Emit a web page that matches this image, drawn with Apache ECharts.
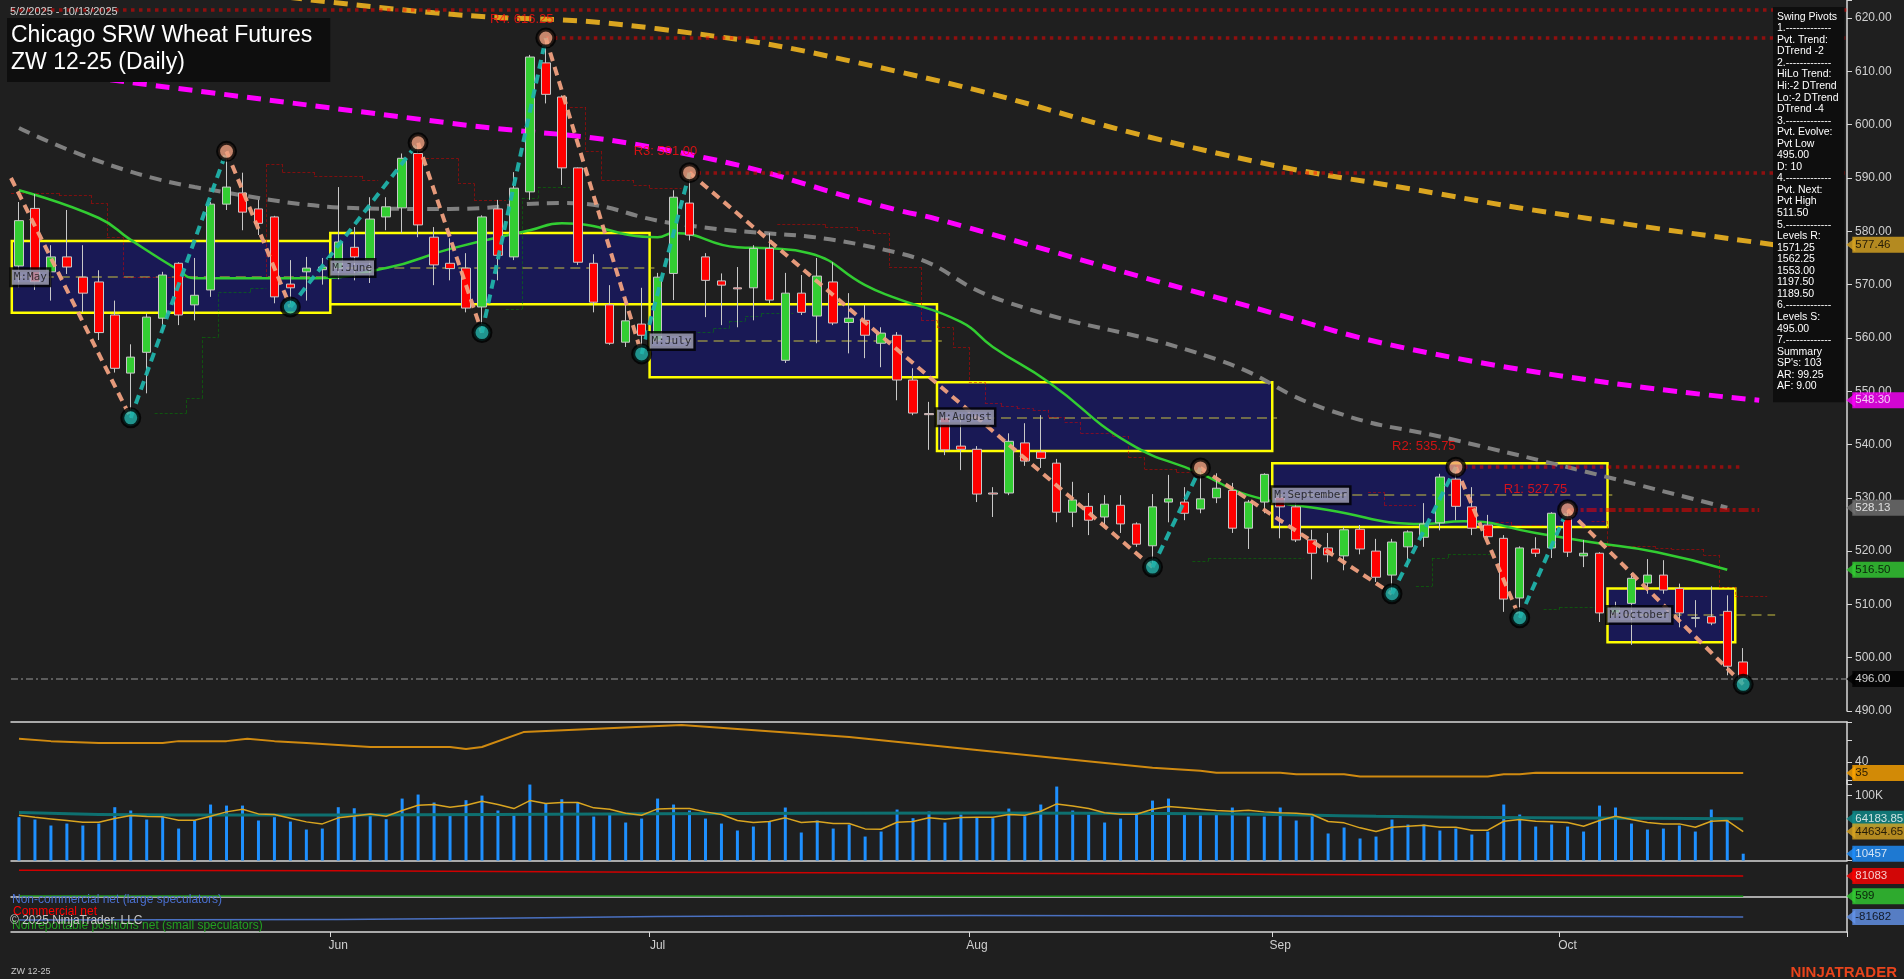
<!DOCTYPE html>
<html><head><meta charset="utf-8">
<script src="https://cdn.jsdelivr.net/npm/echarts@6/dist/echarts.min.js"></script>
<style>html,body{margin:0;padding:0;background:#1f1f1f}#c{width:1904px;height:979px}</style>
</head><body><div id="c"></div>
<script>
// ---- DATA ----
const ohlc = [ // [open, high, low, close]
[573.5,585.5,569.5,582],[584.3,587,569,570.5],[572.4,577.4,567,575.2],[575.2,584,572,573.3],[571.4,577.4,564.8,568.4],
[570.5,572.7,559.6,561],[564.3,567,553.5,554.3],[553.4,558.8,545,556.4],[557.3,564.6,549.6,563.9],[563.7,572.4,561,571.8],
[574,574.2,562.4,564.3],[566.2,575,563.3,568],[569,585.5,567.7,585.1],[585.1,595,584,588.3],[587.2,591,580.2,583.6],
[584.2,585.9,579.3,581.5],[582.7,582.9,566.5,567.7],[570.1,574.6,565.8,569.4],[572.4,575.2,567,573.1],[572.8,575,570,573.3],
[573,588.3,571,578],[577,580.8,570.8,575.2],[574.6,586.4,570.3,582.3],[582.7,586.4,580.2,584.6],[584.4,594.6,579.7,593.7],
[594.6,596.6,578.9,581.2],[578.9,580.8,569.9,573.7],[574,578.7,570.8,573],[573.1,575.9,564.8,565.6],[565.8,583,561,582.7],
[584.2,585.9,570.8,575.5],[575.2,591.1,574.6,588.1],[587.4,613.1,585.9,612.7],[611.6,616.25,604,605.7],[605.2,605.5,588.7,591.9],
[591.9,592,573.7,574.2],[574,575.7,564.8,566.7],[566.2,569.9,558.7,559],[559.2,567.5,558.3,563.2],[562.6,569.4,557,560.5],
[559.6,572.2,559.2,571.4],[572.1,587.7,567.1,586.4],[585.3,591,578.3,579.3],[575.2,575.9,563.9,570.8],[570.7,572.1,562.4,569.9],
[569.4,573.3,562,569.2],[569.4,577.4,563.3,576.8],[576.8,579.7,566.5,567.1],[555.8,572.2,555.3,568.4],[568.4,571.8,564.3,564.8],
[564.1,575,559,571.6],[570.5,574.2,562.4,562.8],[562.9,568.4,557.1,563.7],[563.3,566.2,556.2,560.5],[559,562,554.5,560.9],
[560.5,561.1,548.3,552.1],[552.1,554.3,545.5,545.9],[545.8,548,539,545.6],[545,546,538,539],[539.7,545.5,535.2,539.1],
[539.1,539.7,529.2,530.7],[530.9,532,526.4,530.7],[530.9,542.1,530.5,540.6],[540.3,544,536,536.9],[538.6,545.5,535.6,537.4],
[536.5,537.3,525.4,527.3],[527.3,533,524.5,529.6],[528.4,530.9,523,525.8],[526.4,530.5,524.5,528.8],[528.6,530.5,523.4,525.1],
[525.1,525.4,520.8,521.3],[521,530.7,517,528.3],[529.2,534.3,525.4,529.8],[529.2,532,525.8,527.1],[527.9,535.6,527.1,529.8],
[530,534.6,529,531.8],[531.4,532.8,523.4,524.3],[524.3,529.6,520.4,529.2],[529.2,534.6,527.1,534.4],[530.1,530.9,522.4,528.3],
[528.3,529,521.7,522.1],[522.1,524,514.7,519.6],[520.6,523.4,517.9,519.3],[519.1,524.5,516.4,524],[524.1,524.9,519.4,520.4],
[520,522.3,514.2,515.1],[515.5,522.3,512,521.7],[520.8,523.9,517,523.6],[522.6,529,520.8,525.1],[525.3,534.5,523.9,533.9],
[533.5,535.75,525.8,528.4],[528.3,532,523,524.3],[524.9,526.8,522.4,522.7],[522.4,523,508.6,511],[511.2,520.9,507.5,520.6],
[520.4,522.6,518.9,519.6],[520.6,527.3,518.7,527.1],[526.2,527.75,518.9,519.8],[519.1,522.1,517,519.6],[519.6,519.8,506.7,508.4],
[508.4,510.5,507.5,509.5],[510.2,515.9,502.4,514.9],[514,518.5,512,515.5],[515.5,518.3,512,512.7],[513,513.9,505.7,508.4],
[507.4,510.8,505.7,507.5],[507.7,513.4,506.1,506.5],[508.7,511.7,496.7,498.4],[499.2,501.8,495,496]];
const volume = [66.7,63.1,53.9,56.9,53.9,56.9,82.1,77,63.1,68.2,49.2,61.6,86.2,84.6,84.6,61.6,66.7,60,47.7,49.2,
82.1,80.5,71.8,63.6,95.4,101.6,89.3,71.8,92.9,100,77,70.8,117,88.2,94.4,89.3,67.7,72.3,58.5,64.6,
95.4,86.2,77,64.6,56.9,46.2,52.3,60,81.6,43.1,61.6,49.2,55.4,36.9,44.6,78.5,65.2,75.4,
58.5,70.8,66.2,65.2,80,68.2,86.2,113.9,77,70.8,58.5,64.6,70.8,92.3,95.4,72.3,69.3,70.8,81.6,67.7,67.7,81.6,
61.6,69.3,41.6,50.8,33.9,36.9,63.1,55.4,55.4,46.2,49.2,40,44.6,86.2,70.8,52.3,55.4,52.3,44.6,84.6,81.6,56.9,
47.7,49.2,53.9,44.6,78.5,63.1,10.457];
const volAvg = [69.8,66.7,64.1,61.6,59,59,64.6,69.3,67.7,67.2,62.1,62.1,68.2,74.9,79,71.8,70.8,65.2,59.5,56.4,
65.7,68.7,71.8,68.2,77,85.2,86.2,82.1,85.2,91.3,86.2,80,92.3,87.7,89.3,89.3,81.1,79,72.8,69.8,
79.5,80,80,74.9,70.8,61.6,58.5,60,65.7,58.5,60,56.9,56.9,48.7,48.2,59,60,65.7,
63.6,66.2,66.7,66.7,70.8,69.8,75.9,87.2,84.1,80,73.4,71.3,71.3,79,83.1,81.1,79,77,75.9,77.5,74.9,73.4,72.8,70.8,
60,58,50.3,44.6,51.3,52.8,54.4,51.3,51.3,46.7,46.7,60.5,63.1,60.5,59.5,58.5,52.8,61.6,68.2,63.1,58.5,56.4,56.4,51.3,60.5,61.6,44.63465];
const volLong = [[0,74],[10,70],[20,70],[40,72],[60,73],[75,72],[85,68],[95,66],[108,64.18385]];
const adxPts = [[0,50.6],[2,49.5],[5,48.6],[9,48.6],[10,49.5],[13,49.5],[14.3,50.6],[16,49.5],[18,48.6],[20,47.7],[22,46.8],[27,46.8],[28,45.9],[29,46.8],[31.6,53.6],[41.5,56.8],[52,51.4],[60,45.5],[67.4,40],[71,37.4],[74,36],[75,35.1],[79,35.1],[80,34.4],[83,34.4],[84,33.4],[92,33.4],[93,34.4],[94,34.4],[95,35.1],[108,35]];
const cotLarge = [[0,-94],[20,-92],[40,-80],[60,-76],[80,-78],[100,-80],[108,-81.682]];
const cotComm = [[0,104],[20,102],[40,96],[60,92],[80,87],[100,83],[108,81.083]];
const cotSmall = [[0,1.6],[40,1.2],[80,0.8],[108,0.599]];
const sma200 = [[14,625],[26,621],[40,618],[55,610],[75,594.7],[89,587],[97,583],[110,577.46]];
const sma100 = [[0,610.6],[27,600.3],[41,595],[55,584],[57.5,582.3],[75,567.6],[90,556.2],[109,548.3]];
const sma50 = [[0,599.4],[11,588.3],[27,584.2],[34,585.3],[41,581.5],[55,576],[61.6,567],[75,556],[82,546.5],[90,540.8],[98,535],[107,528.13]];
const sma20 = [[0,587.7],[5,582.5],[7,578.4],[10,572.7],[11,571.2],[18,571.2],[23,573.1],[27,576.7],[32,580.2],[34,581.5],[40,578.9],[41,579.7],[45,577],[47,576.8],[49.5,575.9],[53,569.9],[54.7,567.7],[59,563],[61,558.3],[64.5,551.7],[69.5,540.3],[74,534.6],[77,530.5],[82,527.7],[88,525.1],[90.5,525.6],[95,523.4],[98.4,521.7],[102.6,519.8],[107,516.5]];
const pivots = [[-0.5,590],[7,545],[13,595],[17,565.8],[25,596.6],[29,561],[33,616.25],[39,557],[42,591],[71,517],[74,535.6],[86,512],[90,535.75],[94,507.5],[97,527.75],[108,495]];
const months = [ // name, startIdx, endIdx, top, bottom, mid
['M:May',-0.9,19,578.2,564.7,571.4],['M:June',20,39,579.7,566.3,573.1],['M:July',40,57,566.3,552.6,559.4],
['M:August',58,78,551.7,538.8,545.1],['M:September',79,99,536.5,524.5,530.5],['M:October',100,107,513,502.9,508]];
const resist = [['R4: 616.25',616.25,33,29.5,619.8],['R3: 591.00',591,42,38.5,594.9],['R2: 535.75',535.75,90,86,539.7],['R1: 527.75',527.75,97,93,531.6]];
const redStops = [[0,2,587.2],[3,4,586.8],[5,5,585.3],[6,6,578.9],[7,15,571.4],[16,16,592.6],[17,18,591.1],[19,21,590.4],[22,22,589.6],[26,27,593.7],[28,28,589],[29,30,585.9],[35,35,603.3],[36,36,595],[37,38,589.6],[39,39,588.7],[40,41,588.1],[48,50,581.3],[51,52,580.8],[53,53,580.2],[54,54,579.7],[55,56,573.3],[57,57,563.3],[58,58,562],[59,59,558.3],[60,60,551.7],[61,61,547.8],[62,62,547.2],[63,63,546.8],[64,64,546.5],[65,65,545.1],[66,66,544.2],[67,68,542.1],[69,69,541.6],[70,70,537.6],[71,72,535.4],[73,74,534.8],[85,85,531.1],[86,87,528.6],[93,93,525.4],[94,95,524.9],[99,99,525.6],[100,102,520.9],[103,103,520.6],[104,105,520.4],[106,106,519.3],[107,107,513.3],[108,109,511.6]];
const greenStops = [[9,10,545.9],[11,11,548.7],[12,12,560.2],[13,14,568.6],[15,15,569.3],[31,31,565.4],[32,32,586.2],[33,34,588.3],[43,43,561.1],[44,44,561.8],[45,45,563.2],[46,46,564],[47,48,564.6],[74,74,518.1],[75,80,518.7],[88,88,513.4],[89,89,518.7],[90,92,519.4],[96,96,509.1],[97,99,509.5]];
const monthTicks = {20:'Jun',40:'Jul',60:'Aug',79:'Sep',97:'Oct'};
const lastClose = 496.00;
const topLine = 621.6;
const pivotText = ['Swing Pivots','1.-------------','Pvt. Trend:','DTrend -2','2.-------------','HiLo Trend:','Hi:-2 DTrend','Lo:-2 DTrend','DTrend -4','3.-------------','Pvt. Evolve:','Pvt Low','495.00','D: 10','4.-------------','Pvt. Next:','Pvt High','511.50','5.-------------','Levels R:','1571.25','1562.25','1553.00','1197.50','1189.50','6.-------------','Levels S:','495.00','7.-------------','Summary',"SP's: 103",'AR: 99.25','AF: 9.00'];
// tags: [panel, value, bg, fg, text]
const tags = [[0,577.46,'#daa520','#000','577.46'],[0,548.30,'#ff00ff','#fff','548.30'],[0,528.13,'#707070','#fff','528.13'],
 [0,516.50,'#32cd32','#000','516.50'],[0,496.00,'#000','#fff','496.00'],[1,35,'#ffa500','#000','35'],
 [2,64183.85,'#0e8c8c','#fff','64183.85'],[2,44634.65,'#daa520','#000','44634.65'],[2,10457,'#1e90ff','#fff','10457'],
 [3,81083,'#ff0000','#fff','81083'],[3,599,'#32cd32','#000','599'],[3,-81682,'#6495ed','#000','-81682']];

// ---- CHART ----
const N = 115;
const cats = Array.from({length:N},(_,i)=>i);
const chart = echarts.init(document.getElementById('c'));
const L = 11, R = 57, XMIN = -0.5, XMAX = N-0.5;
const FF = 'Liberation Sans, Arial, sans-serif';
function stepSeg(segs){const out=[];let prev=null;segs.forEach(s=>{if(prev&&prev[1]+1===s[0]){out.push([[s[0]-0.5,prev[2]],[s[0]-0.5,s[2]]]);}out.push([[s[0]-0.5,s[2]],[s[1]+0.5,s[2]]]);prev=s;});return out;}

const zig = {down:[],up:[]};
for(let i=0;i<pivots.length-1;i++){const a=pivots[i],b=pivots[i+1];(b[1]<a[1]?zig.down:zig.up).push({coords:[a,b]});}

const series = [
 {type:'line',xAxisIndex:5,yAxisIndex:0,data:[],z:1,silent:true,
  markArea:{silent:true,itemStyle:{color:'rgba(25,25,90,0.92)',borderColor:'#ffff00',borderWidth:2.5},label:{show:false},
   data:months.map(m=>[{coord:[Math.max(m[1]-0.5,-0.45),m[3]]},{coord:[m[2]+0.5,m[4]]}])}},
 {type:'lines',coordinateSystem:'cartesian2d',xAxisIndex:5,yAxisIndex:0,z:2,silent:true,
  lineStyle:{color:'#c8c040',width:2,type:[10,6]},data:months.map(m=>({coords:[[Math.max(m[1]-0.5,-0.45),m[5]],[m[2]+ (m[0]==='M:October'?3:0.8),m[5]]]}))},
 {type:'line',xAxisIndex:5,yAxisIndex:0,data:sma200,smooth:true,showSymbol:false,z:3,lineStyle:{color:'#daa520',width:5,type:[14,9]}},
 {type:'line',xAxisIndex:5,yAxisIndex:0,data:sma100,smooth:true,showSymbol:false,z:3,lineStyle:{color:'#ff00ff',width:5,type:[14,9]}},
 {type:'line',xAxisIndex:5,yAxisIndex:0,data:sma50,smooth:true,showSymbol:false,z:3,lineStyle:{color:'#808080',width:4,type:[12,8]}},
 {type:'line',xAxisIndex:5,yAxisIndex:0,data:sma20,smooth:true,showSymbol:false,z:4,lineStyle:{color:'#32cd32',width:2.5}},
 {type:'lines',coordinateSystem:'cartesian2d',xAxisIndex:5,yAxisIndex:0,z:3,silent:true,lineStyle:{color:'#e00000',width:1,type:[3,2]},data:stepSeg(redStops).map(c=>({coords:c}))},
 {type:'lines',coordinateSystem:'cartesian2d',xAxisIndex:5,yAxisIndex:0,z:3,silent:true,lineStyle:{color:'#008a00',width:1,type:[3,2]},data:stepSeg(greenStops).map(c=>({coords:c}))},
 {type:'lines',coordinateSystem:'cartesian2d',xAxisIndex:5,yAxisIndex:0,z:5,silent:true,lineStyle:{color:'#ff0000',width:3.5,type:[3.5,4.5]},
  data:[{coords:[[-0.5,topLine],[N-0.5,topLine]]}].concat(resist.slice(0,3).map(r=>({coords:[[r[2],r[1]],[r[0]==='R2: 535.75'?108:N-0.5,r[1]]]})))},
 {type:'lines',coordinateSystem:'cartesian2d',xAxisIndex:5,yAxisIndex:0,z:5,silent:true,lineStyle:{color:'#ff0000',width:4,type:[10,3,3,3]},
  data:[{coords:[[resist[3][2],resist[3][1]],[109,resist[3][1]]]}]},
 {type:'scatter',xAxisIndex:5,yAxisIndex:0,symbolSize:0,z:6,silent:true,
  label:{show:true,position:'right',distance:0,formatter:p=>p.data[2],fontSize:13,fontFamily:FF,color:'#ff1010'},
  data:resist.map(r=>[r[3],r[4],r[0]])},
 {type:'lines',coordinateSystem:'cartesian2d',xAxisIndex:5,yAxisIndex:0,z:2,silent:true,lineStyle:{color:'#999',width:2,type:[7,3,2,3]},
  data:[{coords:[[-0.5,lastClose],[N-0.5,lastClose]]}]},
 {type:'lines',coordinateSystem:'cartesian2d',xAxisIndex:5,yAxisIndex:0,z:8,silent:true,lineStyle:{color:'#f0a080',width:4,type:[9,6],opacity:0.95},data:zig.down},
 {type:'lines',coordinateSystem:'cartesian2d',xAxisIndex:5,yAxisIndex:0,z:8,silent:true,lineStyle:{color:'#20b2aa',width:4,type:[9,6],opacity:0.95},data:zig.up},
 {type:'candlestick',xAxisIndex:0,yAxisIndex:0,z:7,barWidth:9,
  data:ohlc.map(d=>[d[0],d[3],d[2],d[1]]),
  itemStyle:{color:'#32cd32',color0:'#ff0000',borderColor:'#c8c8c8',borderColor0:'#c8c8c8',borderWidth:1}},
 {type:'scatter',xAxisIndex:5,yAxisIndex:0,z:9,symbolSize:17,silent:true,
  data:pivots.slice(1).map((p,i)=>({value:p,itemStyle:{color:(i%2===0?'#20b2aa':'#f0a080'),borderColor:'#000',borderWidth:4}}))},
 {type:'scatter',xAxisIndex:5,yAxisIndex:0,z:10,symbolSize:0,silent:true,clip:false,
  label:{show:true,position:'right',distance:0,formatter:p=>p.data[2],color:'#111',fontFamily:'DejaVu Sans Mono, monospace',fontSize:11,
     backgroundColor:'#a8a8c0',borderColor:'#000',borderWidth:2.5,padding:[2,2]},
  data:months.map(m=>[Math.max(m[1]-0.5,-0.45),m[5],m[0]])},
 {type:'line',xAxisIndex:6,yAxisIndex:1,data:adxPts,showSymbol:false,lineStyle:{color:'#d08a10',width:2}},
 {type:'bar',xAxisIndex:2,yAxisIndex:2,data:volume.map(v=>v*1000),barWidth:3,itemStyle:{color:'#1e90ff'}},
 {type:'line',xAxisIndex:7,yAxisIndex:2,data:volLong.map(p=>[p[0],p[1]*1000]),smooth:true,showSymbol:false,lineStyle:{color:'#0e7070',width:3}},
 {type:'line',xAxisIndex:7,yAxisIndex:2,data:volAvg.map((v,i)=>[i,v*1000]),showSymbol:false,lineStyle:{color:'#daa520',width:1.5}},
 {type:'line',xAxisIndex:8,yAxisIndex:3,data:cotComm.map(p=>[p[0],p[1]*1000]),smooth:true,showSymbol:false,lineStyle:{color:'#d00000',width:1.5}},
 {type:'line',xAxisIndex:8,yAxisIndex:3,data:cotSmall.map(p=>[p[0],p[1]*1000]),smooth:true,showSymbol:false,lineStyle:{color:'#1f9a1f',width:1.5}},
 {type:'line',xAxisIndex:8,yAxisIndex:3,data:cotLarge.map(p=>[p[0],p[1]*1000]),smooth:true,showSymbol:false,lineStyle:{color:'#4a70c0',width:1.5}}
];
[0,1,2,3].forEach(g=>{
 series.push({type:'scatter',xAxisIndex:5+g,yAxisIndex:g,symbol:'triangle',symbolRotate:90,symbolSize:[14,9],symbolOffset:[-1,0],z:20,silent:true,clip:false,
  data:tags.filter(t=>t[0]===g).map(t=>({value:[XMAX+0.3,t[1]],itemStyle:{color:t[2]},
    label:{show:true,position:'right',distance:-3,formatter:t[4],backgroundColor:t[2],color:t[3],padding:[2,2,1,3],fontSize:11.5,fontFamily:FF,width:56,height:13,lineHeight:13,overflow:'none'}}))});
});

const axLbl = {color:'#d0d0d0',fontSize:12,fontFamily:FF};
const catAx = (gi,extra)=>Object.assign({type:'category',gridIndex:gi,data:cats,boundaryGap:true,axisTick:{show:false},axisLabel:{show:false},splitLine:{show:false},axisLine:{show:false}},extra||{});
const valX = gi=>({type:'value',gridIndex:gi,min:XMIN,max:XMAX,show:false});
const yLine = {show:true,onZero:false,lineStyle:{color:'#d8d8d8',width:1.5}};

chart.setOption({
 backgroundColor:'#1f1f1f',animation:false,
 title:[
  {text:'Chicago SRW Wheat Futures\nZW 12-25 (Daily)',left:7,top:18,backgroundColor:'#0e0e0e',padding:[4,18,6,4],
   textStyle:{color:'#fff',fontSize:23,fontWeight:'normal',fontFamily:FF,lineHeight:27}},
  {text:'5/2/2025 - 10/13/2025',left:5,top:1,textStyle:{color:'#d0d0d0',fontSize:11,fontWeight:'normal',fontFamily:FF}},
  {text:pivotText.join('\n'),left:1773,top:7,backgroundColor:'#0e0e0e',padding:[4,6,10,4],
   textStyle:{color:'#fff',fontSize:10.5,fontWeight:'normal',fontFamily:FF,lineHeight:11.55}},
  {text:'Non-commercial net (large speculators)',left:7,top:889,textStyle:{color:'#4a70d0',fontSize:12,fontWeight:'normal',fontFamily:FF}},
  {text:'Commercial net',left:8,top:901,textStyle:{color:'#ff0000',fontSize:12,fontWeight:'normal',fontFamily:FF}},
  {text:'Nonreportable positions net (small speculators)',left:7,top:915,textStyle:{color:'#22a022',fontSize:12,fontWeight:'normal',fontFamily:FF}},
  {text:'© 2025 NinjaTrader, LLC',left:5,top:910,textStyle:{color:'#c8c8c8',fontSize:12,fontWeight:'normal',fontFamily:FF}},
  {text:'ZW 12-25',left:6,top:962,textStyle:{color:'#c8c8c8',fontSize:9,fontWeight:'normal',fontFamily:FF}},
  {text:'NINJATRADER',right:2,top:960,textStyle:{color:'#e8441c',fontSize:15,fontWeight:'bold',fontFamily:FF}}
 ],
 grid:[
  {left:L,right:R,top:0,height:711},
  {left:L,right:R,top:722,height:62},
  {left:L,right:R,top:780,height:80.5},
  {left:L,right:R,top:865,height:67}
 ],
 xAxis:[
  catAx(0),
  catAx(1,{position:'top',axisLine:{show:true,lineStyle:{color:'#d8d8d8',width:1.5}}}),
  catAx(2,{position:'top',axisLine:{show:true,lineStyle:{color:'#d8d8d8',width:1.5}}}),
  catAx(3,{position:'top',axisLine:{show:true,lineStyle:{color:'#d8d8d8',width:1.5}}}),
  catAx(3,{position:'bottom',axisLine:{show:true,lineStyle:{color:'#d8d8d8',width:1.5}},
    axisTick:{show:true,inside:false,length:5,interval:(i)=>monthTicks[i]!==undefined,lineStyle:{color:'#d8d8d8'}},
    axisLabel:{show:true,interval:(i)=>monthTicks[i]!==undefined,formatter:(v)=>monthTicks[v]||'',color:'#d0d0d0',fontSize:12,fontFamily:FF,margin:8}}),
  valX(0),valX(1),valX(2),valX(3)
 ],
 yAxis:[
  {type:'value',gridIndex:0,position:'right',min:490,max:623.4,interval:10,splitLine:{show:false},
   axisLine:yLine,axisTick:{show:true,length:5,lineStyle:{color:'#d8d8d8'}},
   axisLabel:Object.assign({formatter:v=>(Math.abs(v%10)<1e-6?v.toFixed(2):''),margin:8},axLbl)},
  {type:'value',gridIndex:1,position:'right',min:30,max:58.2,interval:10,splitLine:{show:false},
   axisLine:yLine,axisTick:{show:true,length:5,lineStyle:{color:'#d8d8d8'}},
   axisLabel:Object.assign({formatter:v=>v===40?'40':'',margin:8},axLbl)},
  {type:'value',gridIndex:2,position:'right',min:0,max:124000,interval:100000,splitLine:{show:false},
   axisLine:yLine,axisTick:{show:true,length:5,lineStyle:{color:'#d8d8d8'}},
   axisLabel:Object.assign({formatter:v=>v===100000?'100K':'',margin:8},axLbl)},
  {type:'value',gridIndex:3,position:'right',min:-141300,max:124700,splitLine:{show:false},
   axisLine:yLine,axisTick:{show:false},axisLabel:{show:false}}
 ],
 series:series
});
</script></body></html>
